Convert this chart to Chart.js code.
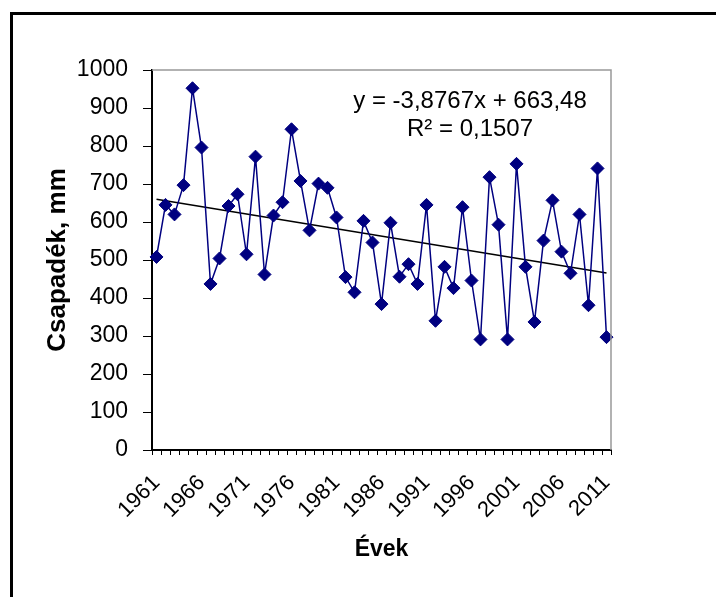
<!DOCTYPE html>
<html>
<head>
<meta charset="utf-8">
<script src="https://cdn.jsdelivr.net/npm/chart.js@4/dist/chart.umd.min.js"></script>
<style>
  html, body { margin: 0; padding: 0; background: #fff; }
  #wrap { width: 716px; height: 597px; }
</style>
</head>
<body>
<div id="wrap"><canvas id="chart" width="716" height="597"></canvas></div>
<script>
// Years on the category axis
const years = ['1961','1962','1963','1964','1965','1966','1967','1968','1969','1970',
  '1971','1972','1973','1974','1975','1976','1977','1978','1979','1980',
  '1981','1982','1983','1984','1985','1986','1987','1988','1989','1990',
  '1991','1992','1993','1994','1995','1996','1997','1998','1999','2000',
  '2001','2002','2003','2004','2005','2006','2007','2008','2009','2010','2011'];

// Yearly precipitation, mm
const precipitation = [508, 645, 620, 697, 952, 796, 437, 504, 642, 673,
  515, 772, 462, 617, 652, 844, 708, 578, 701, 690,
  612, 455, 415, 603, 546, 384, 598, 456, 489, 437,
  645, 340, 482, 426, 639, 446, 291, 718, 593, 291,
  753, 482, 337, 551, 657, 522, 465, 620, 381, 741, 297];

// Linear trend end points
const trendStart = 660;
const trendEnd = 466;
const trendValues = years.map((y, i) => i === 0 ? trendStart : (i === years.length - 1 ? trendEnd : null));

const yTicks = [0, 100, 200, 300, 400, 500, 600, 700, 800, 900, 1000];
const equationLines = ['y = -3,8767x + 663,48', 'R² = 0,1507'];

const FONT = "'Liberation Sans', Arial, sans-serif";

// frame, plot border and the trend equation
const decorations = {
  id: 'decorations',
  beforeDraw(chart) {
    const c = chart.ctx;
    c.save();
    c.fillStyle = '#fff';
    c.fillRect(0, 0, chart.width, chart.height);
    c.fillStyle = '#000';
    c.fillRect(10, 12, chart.width - 10, 3);
    c.fillRect(10, 12, 3, chart.height - 12);
    c.restore();
  },
  afterDatasetsDraw(chart) {
    const c = chart.ctx;
    const a = chart.chartArea;
    c.save();
    c.strokeStyle = '#999';
    c.lineWidth = 1.5;
    c.beginPath();
    c.moveTo(a.left, a.top);
    c.lineTo(a.right, a.top);
    c.lineTo(a.right, a.bottom);
    c.stroke();
    c.fillStyle = '#000';
    c.font = '24px ' + FONT;
    c.textAlign = 'center';
    c.textBaseline = 'middle';
    c.fillText(equationLines[0], 470, 101);
    c.fillText(equationLines[1], 470, 129);
    c.restore();
  }
};

new Chart(document.getElementById('chart'), {
  type: 'line',
  data: {
    labels: years,
    datasets: [{
      label: 'Csapadék',
      data: precipitation,
      borderColor: '#000080',
      backgroundColor: '#000080',
      borderWidth: 1.5,
      pointStyle: 'rectRot',
      pointRadius: 6.5,
      pointBorderWidth: 1,
      fill: false,
      tension: 0
    }, {
      label: 'Trend',
      data: trendValues,
      borderColor: '#000',
      borderWidth: 1.5,
      pointRadius: 0,
      spanGaps: true,
      fill: false
    }]
  },
  options: {
    responsive: false,
    animation: false,
    layout: { padding: { top: 70, right: 105, left: 36, bottom: 20 } },
    plugins: {
      legend: { display: false },
      tooltip: { enabled: false }
    },
    scales: {
      x: {
        type: 'category',
        offset: true,
        afterFit(scale) { scale.height = 127; },
        border: { color: '#000', width: 2 },
        grid: { offset: true, drawOnChartArea: false, drawTicks: true, tickLength: 5, color: '#000' },
        ticks: {
          autoSkip: false,
          minRotation: 45,
          maxRotation: 45,
          padding: 15,
          color: '#000',
          font: { family: FONT, size: 22 },
          callback(value, index) { return index % 5 === 0 ? years[index] : ''; }
        },
        title: {
          display: true,
          text: 'Évek',
          color: '#000',
          font: { family: FONT, size: 23, weight: 'bold' },
          padding: { top: 0, bottom: 14 }
        }
      },
      y: {
        min: 0,
        max: 1000,
        afterFit(scale) { scale.width = 116; },
        afterBuildTicks(scale) { scale.ticks = yTicks.map(v => ({ value: v })); },
        border: { color: '#000', width: 2 },
        grid: { drawOnChartArea: false, drawTicks: true, tickLength: 9, color: '#000' },
        ticks: {
          padding: 15,
          color: '#000',
          font: { family: FONT, size: 23 },
          callback(value) { return String(value); }
        },
        title: {
          display: true,
          text: 'Csapadék, mm',
          color: '#000',
          font: { family: FONT, size: 26, weight: 'bold' },
          padding: { top: 6, bottom: 0 }
        }
      }
    }
  },
  plugins: [decorations]
});
</script>
</body>
</html>
